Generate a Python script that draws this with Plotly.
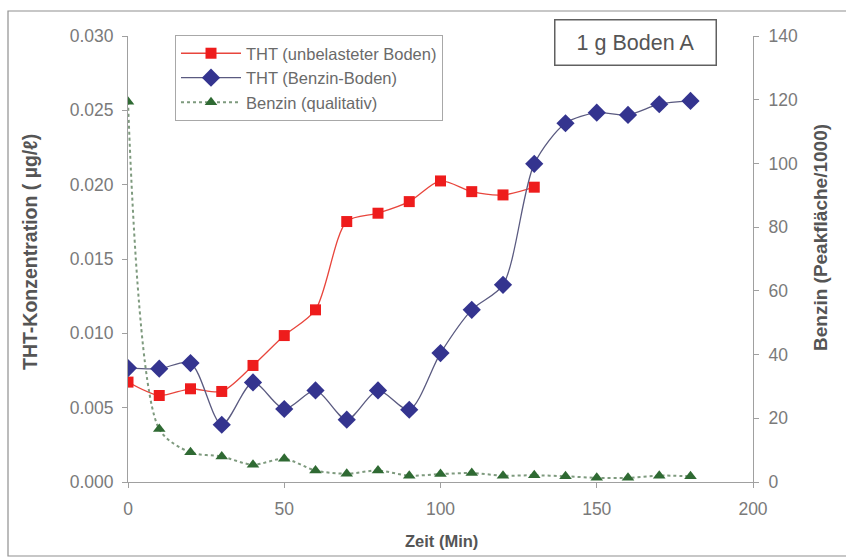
import plotly.graph_objects as go

zeit = [0, 10, 20, 30, 40, 50, 60, 70, 80, 90, 100, 110, 120, 130, 140, 150, 160, 170, 180]
zeit_rot = zeit[:14]

tht_unbelastet = [0.00672, 0.00582, 0.00627, 0.00609, 0.00784, 0.00985, 0.01158, 0.01752,
                  0.01808, 0.01886, 0.02025, 0.01953, 0.01931, 0.01983]
tht_benzin = [0.00766, 0.00762, 0.00800, 0.00385, 0.00670, 0.00491, 0.00616, 0.00419,
              0.00616, 0.00486, 0.00867, 0.01158, 0.01326, 0.02140, 0.02413, 0.02484,
              0.02469, 0.02541, 0.02563]
benzin = [119.4, 16.6, 9.3, 8.0, 5.4, 7.3, 3.6, 2.6, 3.6, 2.0, 2.5, 2.8, 2.0, 2.1,
          1.8, 1.3, 1.3, 2.0, 1.8]

x_ticks = [0, 50, 100, 150, 200]
y_ticks = [0.000, 0.005, 0.010, 0.015, 0.020, 0.025, 0.030]
y2_ticks = [0, 20, 40, 60, 80, 100, 120, 140]

FONT = "Liberation Sans, Arial, sans-serif"

fig = go.Figure()
fig.add_trace(go.Scatter(
    x=zeit_rot, y=tht_unbelastet, name="THT (unbelasteter Boden)", legendgroup="a",
    mode="lines+markers", line=dict(color="#E8453C", width=1.3, shape="spline", smoothing=0.8),
    marker=dict(symbol="square", size=11, color="#EE1C1C"),
))
fig.add_trace(go.Scatter(
    x=zeit, y=tht_benzin, name="THT (Benzin-Boden)", legendgroup="b",
    mode="lines+markers", line=dict(color="#5A5A80", width=1.3, shape="spline", smoothing=0.8),
    marker=dict(symbol="diamond", size=14, color="#34348F"),
))
fig.add_trace(go.Scatter(
    x=zeit, y=benzin, name="Benzin (qualitativ)", legendgroup="c", yaxis="y2",
    mode="lines+markers", line=dict(color="#7E9A7E", width=2, dash="dot", shape="spline", smoothing=0.8),
    marker=dict(symbol="triangle-up", size=11, color="#2F6A33"),
))

L, R, T, B = 128, 93, 36, 78
PW, PH = 846 - L - R, 560 - T - B


def px(xp):
    return (xp - L) / PW


def py(yp):
    return (560 - B - yp) / PH


axis_common = dict(showline=True, linecolor="#A0A0A0", linewidth=1, ticks="outside",
                   ticklen=5, tickcolor="#A0A0A0", showgrid=False, zeroline=False,
                   tickfont=dict(family=FONT, size=17.5, color="#7A7A7A"))

fig.update_layout(
    width=846, height=560,
    margin=dict(l=L, r=R, t=T, b=B),
    paper_bgcolor="white", plot_bgcolor="white",
    font=dict(family=FONT, color="#666666"),
    xaxis=dict(range=[0, 200], tickvals=x_ticks, ticklabelstandoff=6, **axis_common),
    yaxis=dict(range=[0, 0.030], tickvals=y_ticks, tickformat=".3f", ticklabelstandoff=5, **axis_common),
    yaxis2=dict(range=[0, 140], tickvals=y2_ticks, overlaying="y", side="right",
                ticklabelstandoff=6, **axis_common),
    showlegend=True,
    legend=dict(x=px(175), y=py(35), xanchor="left", yanchor="top",
                bgcolor="white", bordercolor="#A8A8A8", borderwidth=1,
                font=dict(family=FONT, size=16.5, color="#6A6A6A"),
                itemwidth=60, tracegroupgap=8, traceorder="normal"),
    annotations=[
        dict(text="<b>THT-Konzentration ( µg/ℓ)</b>", xref="paper", yref="paper",
             x=px(30), y=py(252), textangle=-90, showarrow=False,
             font=dict(family=FONT, size=19.5, color="#555555"), xanchor="center", yanchor="middle"),
        dict(text="<b>Benzin (Peakfläche/1000)</b>", xref="paper", yref="paper",
             x=px(820), y=py(238), textangle=-90, showarrow=False,
             font=dict(family=FONT, size=19, color="#555555"), xanchor="center", yanchor="middle"),
        dict(text="<b>Zeit (Min)</b>", xref="paper", yref="paper",
             x=px(441), y=py(541), showarrow=False,
             font=dict(family=FONT, size=16.5, color="#555555"), xanchor="center", yanchor="middle"),
        dict(text="1 g Boden A", xref="paper", yref="paper",
             x=px(635.5), y=py(42), showarrow=False, width=160, height=44,
             bordercolor="#606060", borderwidth=1.5, bgcolor="white", borderpad=0,
             font=dict(family=FONT, size=21.5, color="#555555"), xanchor="center", yanchor="middle"),
    ],
    shapes=[
        dict(type="rect", xref="paper", yref="paper", x0=px(8), x1=px(860), y0=py(556), y1=py(11),
             line=dict(color="#909090", width=1.2), layer="below"),
    ],
)

fig.write_html("out.html")
